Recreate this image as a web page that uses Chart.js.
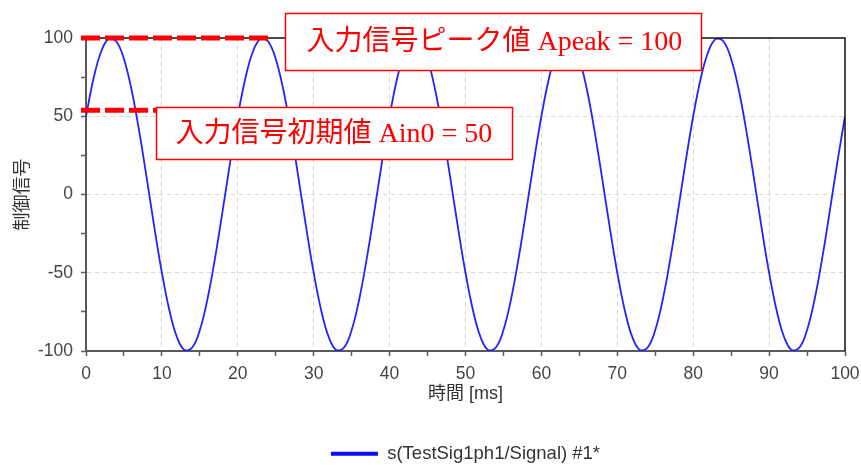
<!DOCTYPE html>
<html lang="ja">
<head>
<meta charset="utf-8">
<title>制御信号</title>
<script src="https://cdn.jsdelivr.net/npm/chart.js@4.4.0/dist/chart.umd.min.js"></script>
<style>
  html, body { margin: 0; padding: 0; background: #fff; overflow: hidden; }
  canvas { display: block; }
</style>
</head>
<body>
<canvas id="c" width="861" height="473"></canvas>
<script>
// Sample times [ms]
const timeMs = [
  0, 1, 2, 3, 4, 5, 6, 7, 8, 9, 10, 11, 12, 13, 14, 15, 16, 17, 18, 19,
  20, 21, 22, 23, 24, 25, 26, 27, 28, 29, 30, 31, 32, 33, 34, 35, 36, 37, 38, 39,
  40, 41, 42, 43, 44, 45, 46, 47, 48, 49, 50, 51, 52, 53, 54, 55, 56, 57, 58, 59,
  60, 61, 62, 63, 64, 65, 66, 67, 68, 69, 70, 71, 72, 73, 74, 75, 76, 77, 78, 79,
  80, 81, 82, 83, 84, 85, 86, 87, 88, 89, 90, 91, 92, 93, 94, 95, 96, 97, 98, 99,
  100
];

// Control signal s(TestSig1ph1/Signal) #1*
const signalValues = [
  50, 74.3, 91.4, 99.5, 97.8, 86.6, 66.9, 40.7, 10.5, -20.8,
  -50, -74.3, -91.4, -99.5, -97.8, -86.6, -66.9, -40.7, -10.5, 20.8,
  50, 74.3, 91.4, 99.5, 97.8, 86.6, 66.9, 40.7, 10.5, -20.8,
  -50, -74.3, -91.4, -99.5, -97.8, -86.6, -66.9, -40.7, -10.5, 20.8,
  50, 74.3, 91.4, 99.5, 97.8, 86.6, 66.9, 40.7, 10.5, -20.8,
  -50, -74.3, -91.4, -99.5, -97.8, -86.6, -66.9, -40.7, -10.5, 20.8,
  50, 74.3, 91.4, 99.5, 97.8, 86.6, 66.9, 40.7, 10.5, -20.8,
  -50, -74.3, -91.4, -99.5, -97.8, -86.6, -66.9, -40.7, -10.5, 20.8,
  50, 74.3, 91.4, 99.5, 97.8, 86.6, 66.9, 40.7, 10.5, -20.8,
  -50, -74.3, -91.4, -99.5, -97.8, -86.6, -66.9, -40.7, -10.5, 20.8,
  50
];

const seriesName = 's(TestSig1ph1/Signal) #1*';

// Tick labels
const xTickLabels = [0, 10, 20, 30, 40, 50, 60, 70, 80, 90, 100];
const yTickLabels = [-100, -50, 0, 50, 100];

// Annotated signal parameters
const peakValue = 100;     // Apeak
const initialValue = 50;   // Ain0
const peakLabel = '入力信号ピーク値 Apeak = ' + peakValue;
const initialLabel = '入力信号初期値 Ain0 = ' + initialValue;

const points = timeMs.map((t, i) => ({ x: t, y: signalValues[i] }));

const sansFamily = '"Liberation Sans", Arial, "Noto Sans CJK JP", sans-serif';
const tickFont = { family: sansFamily, size: 17.5 };
const tickColor = '#454545';
const axisColor = '#5a5a5a';
const gridColor = '#d4d4d4';

// Box around the plot (top / right edges) drawn in black
const frameBox = {
  id: 'frameBox',
  afterDatasetsDraw(chart) {
    const { ctx, chartArea: a } = chart;
    ctx.save();
    ctx.strokeStyle = '#111';
    ctx.lineWidth = 1.5;
    ctx.beginPath();
    ctx.moveTo(a.left, a.top);
    ctx.lineTo(a.right, a.top);
    ctx.lineTo(a.right, a.bottom);
    ctx.stroke();
    ctx.restore();
  }
};

// Red dashed reference lines with labelled call-out boxes
const callouts = {
  id: 'callouts',
  afterDraw(chart) {
    const { ctx } = chart;
    const xs = chart.scales.x, ys = chart.scales.y;
    const red = '#ff0000';

    const dashLine = (value, offsetPx, xEnd) => {
      const y = ys.getPixelForValue(value) + offsetPx;
      ctx.save();
      ctx.strokeStyle = red;
      ctx.lineWidth = 5;
      ctx.setLineDash([19, 5]);
      ctx.beginPath();
      ctx.moveTo(xs.getPixelForValue(0) - 5, y);
      ctx.lineTo(xs.getPixelForValue(xEnd), y);
      ctx.stroke();
      ctx.restore();
    };

    const box = (text, left, top, width, height, padLeft) => {
      ctx.save();
      ctx.fillStyle = '#fff';
      ctx.fillRect(left, top, width, height);
      ctx.strokeStyle = red;
      ctx.lineWidth = 1.5;
      ctx.strokeRect(left, top, width, height);
      ctx.fillStyle = red;
      ctx.font = '28px "Liberation Serif", "Times New Roman", "Noto Sans CJK JP", serif';
      ctx.textBaseline = 'middle';
      ctx.textAlign = 'left';
      ctx.fillText(text, left + padLeft, top + height / 2 + 1);
      ctx.restore();
    };

    dashLine(peakValue, 0, 24.2);
    dashLine(initialValue, -6, 9.9);
    box(peakLabel, 285.5, 13.5, 416, 57, 21);
    box(initialLabel, 156.5, 107.5, 356, 52, 19);
  }
};

new Chart(document.getElementById('c'), {
  type: 'line',
  data: {
    datasets: [{
      label: seriesName,
      data: points,
      borderColor: '#2323ff',
      backgroundColor: '#0a0aff',
      borderWidth: 1.8,
      pointRadius: 0,
      fill: false,
      tension: 0.4
    }]
  },
  options: {
    responsive: false,
    devicePixelRatio: 1,
    animation: false,
    layout: { padding: { left: 0, top: 38, right: 16, bottom: 0 } },
    plugins: {
      tooltip: { enabled: false },
      legend: {
        position: 'bottom',
        fullSize: false,
        labels: {
          boxWidth: 47,
          boxHeight: 4,
          padding: 10,
          color: '#333',
          font: { family: sansFamily, size: 18.5 },
          generateLabels(chart) {
            return Chart.defaults.plugins.legend.labels.generateLabels(chart)
              .map(l => Object.assign(l, { lineWidth: 0, fillStyle: '#0a0aff' }));
          }
        }
      }
    },
    scales: {
      x: {
        type: 'linear',
        min: 0,
        max: 100,
        afterFit(scale) {
          scale.height = 83.5;
          scale.paddingLeft = 0;
          scale.paddingRight = 0;
        },
        ticks: {
          stepSize: 5,
          autoSkip: false,
          maxRotation: 0,
          padding: 7.5,
          color: tickColor,
          font: tickFont,
          callback: v => (xTickLabels.includes(v) ? String(v) : '')
        },
        grid: {
          color: c => (c.tick && xTickLabels.includes(c.tick.value) && c.tick.value !== 0 && c.tick.value !== 100) ? gridColor : 'rgba(0,0,0,0)',
          lineWidth: 1,
          tickColor: axisColor,
          tickLength: 5,
          tickWidth: 1.5
        },
        border: { display: true, color: axisColor, width: 2, dash: [4, 4] },
        title: {
          display: true,
          text: '時間 [ms]',
          color: '#333',
          font: { family: sansFamily, size: 18 },
          padding: { top: 0, bottom: 29.5 }
        }
      },
      y: {
        type: 'linear',
        min: -100,
        max: 100,
        afterFit(scale) { scale.width = 86; },
        ticks: {
          stepSize: 25,
          autoSkip: false,
          padding: 8,
          color: tickColor,
          font: tickFont,
          callback: v => (yTickLabels.includes(v) ? String(v) : '')
        },
        grid: {
          color: c => (c.tick && yTickLabels.includes(c.tick.value) && Math.abs(c.tick.value) !== 100) ? gridColor : 'rgba(0,0,0,0)',
          lineWidth: 1,
          tickColor: axisColor,
          tickLength: 5,
          tickWidth: 1.5
        },
        border: { display: true, color: axisColor, width: 2, dash: [4, 4] },
        title: {
          display: true,
          text: '制御信号',
          color: '#333',
          font: { family: '"Noto Sans CJK JP", sans-serif', size: 18 },
          padding: { top: 10, bottom: 0 }
        }
      }
    }
  },
  plugins: [frameBox, callouts]
});
</script>
</body>
</html>
